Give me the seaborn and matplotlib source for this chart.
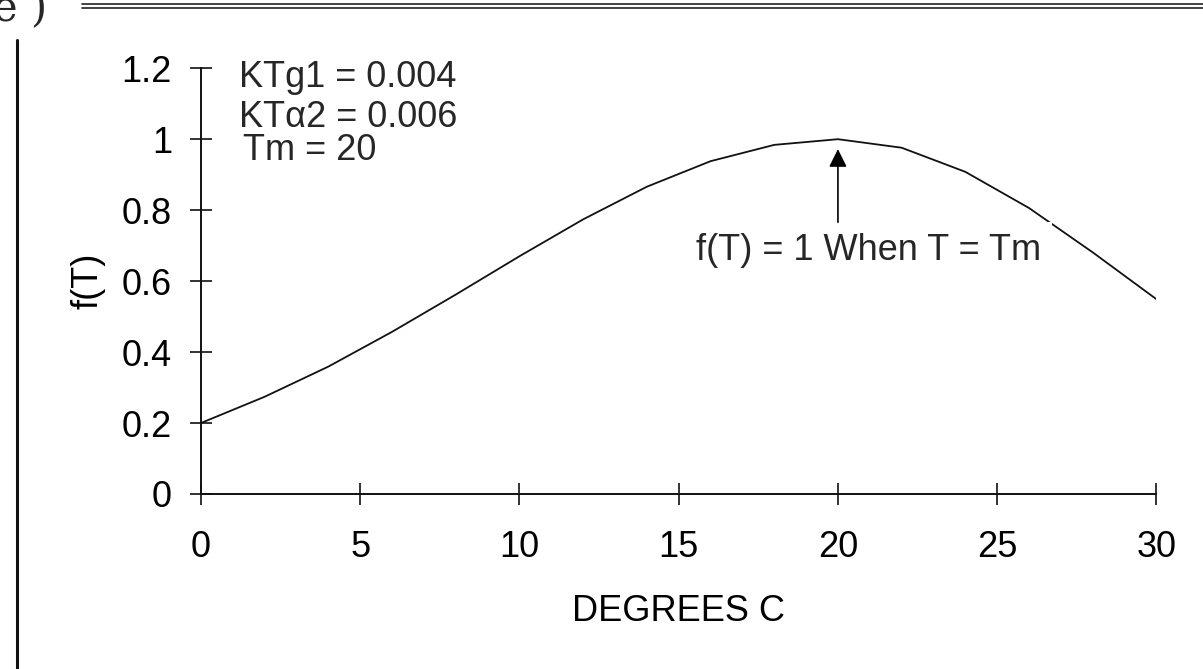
import numpy as np
import pandas as pd
import matplotlib
matplotlib.use("Agg")
import matplotlib.pyplot as plt
import seaborn as sns
from matplotlib.lines import Line2D

sns.set_theme(style="white")
plt.rcParams['font.family'] = ['Liberation Sans', 'DejaVu Sans']

# values
temps = [0, 2, 4, 6, 8, 10, 12, 14, 16, 18, 20, 22, 24, 26, 28, 30]
f_t = [0.20, 0.274, 0.359, 0.457, 0.562, 0.670, 0.774, 0.866, 0.938, 0.984,
       1.0, 0.976, 0.908, 0.806, 0.681, 0.549]
x_ticks = [0, 5, 10, 15, 20, 25, 30]
y_ticks = [0, 0.2, 0.4, 0.6, 0.8, 1.0, 1.2]
y_tick_labels = ["0", "0.2", "0.4", "0.6", "0.8", "1", "1.2"]
params = ["KTg1 = 0.004", "KTα2 = 0.006", "Tm = 20"]

df = pd.DataFrame({"T": temps, "f": f_t})

FS = 26

fig = plt.figure(figsize=(12.03, 6.69), dpi=100)
ax = fig.add_axes([0.167, 0.2616, 0.7943, 0.6364])

sns.lineplot(data=df, x="T", y="f", ax=ax, color="#111111", linewidth=1.3)

ax.set_xlim(0, 30)
ax.set_ylim(0, 1.2)
ax.set_xticks(x_ticks)
ax.set_yticks(y_ticks)
ax.set_yticklabels(y_tick_labels)
ax.tick_params(axis="both", direction="inout", length=15.5, width=1.2,
               color="#111111", labelsize=FS, labelcolor="black",
               bottom=True, left=True)
ax.tick_params(axis="x", pad=18)
ax.tick_params(axis="y", pad=13)
for s in ["top", "right"]:
    ax.spines[s].set_visible(False)
for s in ["left", "bottom"]:
    ax.spines[s].set_color("#111111")
    ax.spines[s].set_linewidth(1.4)
ax.set_xlabel("DEGREES C", fontsize=FS, labelpad=21, color="black")
ax.set_ylabel("f(T)", fontsize=FS, labelpad=12, color="black")

# parameter text block
ax.text(1.2, 1.146, params[0], fontsize=FS, va="baseline", ha="left")
ax.text(1.2, 1.034, params[1], fontsize=FS, va="baseline", ha="left")
ax.text(1.32, 0.941, params[2], fontsize=FS, va="baseline", ha="left")

# annotation with arrow (label box blanks out the curve behind it)
ax.annotate("", xy=(20, 0.972), xytext=(20, 0.766), zorder=5,
            arrowprops=dict(arrowstyle="-|>,head_length=0.9,head_width=0.45",
                            color="black", lw=1.2, shrinkA=0, shrinkB=0))
ax.text(20.95, 0.659, "f(T) = 1 When T = Tm", fontsize=FS, ha="center",
        va="baseline", zorder=4,
        bbox=dict(facecolor="white", edgecolor="none", pad=8))

# page decorations around the chart
fig.text(-0.006, 1.018, "e )", fontsize=30, family="serif", va="top", ha="left")
fig.add_artist(Line2D([82 / 1203, 1], [1 - 4 / 669] * 2, color="#222222", lw=1.2))
fig.add_artist(Line2D([82 / 1203, 1], [1 - 8 / 669] * 2, color="#222222", lw=1.2))
fig.add_artist(Line2D([17 / 1203] * 2, [0, 1 - 40 / 669], color="#111111", lw=2.2))

fig.savefig("out.png", dpi=100)
